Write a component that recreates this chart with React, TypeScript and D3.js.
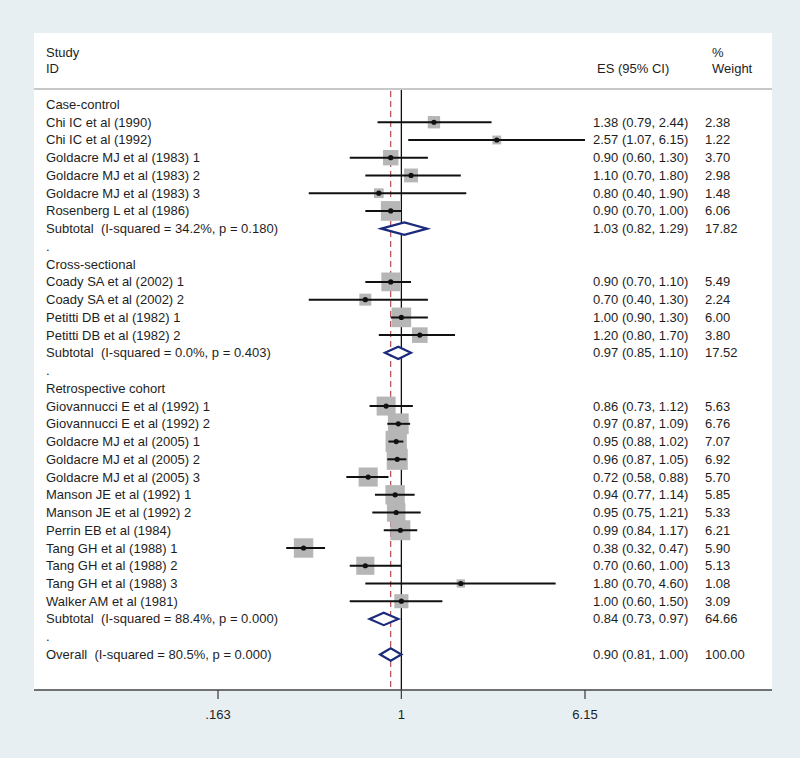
import React from "react";
import * as d3 from "d3";

// ---- data ----
const labels = [
  "Case-control",
  "Chi IC et al (1990)",
  "Chi IC et al (1992)",
  "Goldacre MJ et al (1983) 1",
  "Goldacre MJ et al (1983) 2",
  "Goldacre MJ et al (1983) 3",
  "Rosenberg L et al (1986)",
  "Subtotal  (I-squared = 34.2%, p = 0.180)",
  ".",
  "Cross-sectional",
  "Coady SA et al (2002) 1",
  "Coady SA et al (2002) 2",
  "Petitti DB et al (1982) 1",
  "Petitti DB et al (1982) 2",
  "Subtotal  (I-squared = 0.0%, p = 0.403)",
  ".",
  "Retrospective cohort",
  "Giovannucci E et al (1992) 1",
  "Giovannucci E et al (1992) 2",
  "Goldacre MJ et al (2005) 1",
  "Goldacre MJ et al (2005) 2",
  "Goldacre MJ et al (2005) 3",
  "Manson JE et al (1992) 1",
  "Manson JE et al (1992) 2",
  "Perrin EB et al (1984)",
  "Tang GH et al (1988) 1",
  "Tang GH et al (1988) 2",
  "Tang GH et al (1988) 3",
  "Walker AM et al (1981)",
  "Subtotal  (I-squared = 88.4%, p = 0.000)",
  ".",
  "Overall  (I-squared = 80.5%, p = 0.000)",
];
// row kind: h = heading, s = study, d = diamond (subtotal/overall), b = blank
const kinds = [
  "h", "s", "s", "s", "s", "s", "s", "d", "b",
  "h", "s", "s", "s", "s", "d", "b",
  "h", "s", "s", "s", "s", "s", "s", "s", "s", "s", "s", "s", "s", "d", "b",
  "d",
];
const es = [
  null, 1.38, 2.57, 0.9, 1.1, 0.8, 0.9, 1.03, null,
  null, 0.9, 0.7, 1.0, 1.2, 0.97, null,
  null, 0.86, 0.97, 0.95, 0.96, 0.72, 0.94, 0.95, 0.99, 0.38, 0.7, 1.8, 1.0, 0.84, null,
  0.9,
];
const lo = [
  null, 0.79, 1.07, 0.6, 0.7, 0.4, 0.7, 0.82, null,
  null, 0.7, 0.4, 0.9, 0.8, 0.85, null,
  null, 0.73, 0.87, 0.88, 0.87, 0.58, 0.77, 0.75, 0.84, 0.32, 0.6, 0.7, 0.6, 0.73, null,
  0.81,
];
const hi = [
  null, 2.44, 6.15, 1.3, 1.8, 1.9, 1.0, 1.29, null,
  null, 1.1, 1.3, 1.3, 1.7, 1.1, null,
  null, 1.12, 1.09, 1.02, 1.05, 0.88, 1.14, 1.21, 1.17, 0.47, 1.0, 4.6, 1.5, 0.97, null,
  1.0,
];
const weights = [
  null, 2.38, 1.22, 3.7, 2.98, 1.48, 6.06, 17.82, null,
  null, 5.49, 2.24, 6.0, 3.8, 17.52, null,
  null, 5.63, 6.76, 7.07, 6.92, 5.7, 5.85, 5.33, 6.21, 5.9, 5.13, 1.08, 3.09, 64.66, null,
  100.0,
];
const tickValues = [0.163, 1, 6.15];
const tickLabels = [".163", "1", "6.15"];
const overallES = 0.9;

const W = 800;
const H = 758;
const FONT = "'Liberation Sans', Arial, sans-serif";
const TXT = "#1e1e1e";
const FS = 13;

export default function App() {
  const panelL = 34, panelR = 772, panelT = 33, axisY = 690, headerY = 89;
  const x = d3.scaleLog().domain([0.163, 6.15]).range([218, 585]);
  const idx = d3.range(labels.length);
  const y = d3.scalePoint<number>().domain(idx).range([104.5, 104.5 + 17.74 * (labels.length - 1)]);
  const box = d3.scaleSqrt().domain([0, 1]).range([0, 8]);
  const xMin = x.range()[0], xMax = x.range()[1];
  const fmt = d3.format(".2f");

  return (
    <svg width={W} height={H} style={{ position: "absolute", left: 0, top: 0, display: "block" }}
      fontFamily={FONT}>
      <rect x={0} y={0} width={W} height={H} fill="#e8eff3" />
      <rect x={panelL} y={panelT} width={panelR - panelL} height={axisY - panelT} fill="#ffffff" />
      {/* header */}
      <text x={46} y={52} fontSize={FS} fill={TXT} dominantBaseline="central">Study</text>
      <text x={46} y={68} fontSize={FS} fill={TXT} dominantBaseline="central">ID</text>
      <text x={597} y={68} fontSize={FS} fill={TXT} dominantBaseline="central">ES (95% CI)</text>
      <text x={712} y={52} fontSize={FS} fill={TXT} dominantBaseline="central">%</text>
      <text x={712} y={68} fontSize={FS} fill={TXT} dominantBaseline="central">Weight</text>
      <line x1={panelL} x2={panelR} y1={headerY} y2={headerY} stroke="#c8c8c8" strokeWidth={2} />

      {/* reference lines */}
      <line x1={x(overallES)} x2={x(overallES)} y1={headerY + 2} y2={axisY} stroke="#a8282c"
        strokeWidth={1} strokeDasharray="6,4" />
      <line x1={x(1)} x2={x(1)} y1={headerY + 1} y2={axisY} stroke="#111" strokeWidth={1.3} />

      {idx.map((i) => {
        const yy = y(i) as number;
        const k = kinds[i];
        const els: React.ReactNode[] = [];
        els.push(
          <text key="l" x={46} y={yy} fontSize={FS} fill={TXT} dominantBaseline="central"
            style={{ whiteSpace: "pre" }}>{labels[i]}</text>
        );
        if (k === "s") {
          const cx = x(es[i] as number);
          const s = box(weights[i] as number);
          const x1 = Math.max(xMin, x(lo[i] as number));
          const x2 = Math.min(xMax, x(hi[i] as number));
          els.push(<rect key="b" x={cx - s / 2} y={yy - s / 2} width={s} height={s} fill="#b6b6b6" />);
          els.push(<line key="ci" x1={x1} x2={x2} y1={yy} y2={yy} stroke="#111" strokeWidth={2} />);
          els.push(<circle key="c" cx={cx} cy={yy} r={2.6} fill="#111" />);
        }
        if (k === "d") {
          const xl = x(lo[i] as number), xr = x(hi[i] as number), xc = x(es[i] as number);
          const hh = 6.2;
          els.push(
            <path key="dm" d={`M${xl},${yy}L${xc},${yy - hh}L${xr},${yy}L${xc},${yy + hh}Z`}
              fill="#ffffff" stroke="#1c2a7c" strokeWidth={2.2} />
          );
        }
        if (k === "s" || k === "d") {
          els.push(
            <text key="e" x={593} y={yy} fontSize={FS} fill={TXT} dominantBaseline="central">
              {`${fmt(es[i] as number)} (${fmt(lo[i] as number)}, ${fmt(hi[i] as number)})`}
            </text>
          );
          els.push(
            <text key="w" x={705} y={yy} fontSize={FS} fill={TXT} dominantBaseline="central">
              {fmt(weights[i] as number)}
            </text>
          );
        }
        return <g key={i}>{els}</g>;
      })}

      {/* axis */}
      <line x1={panelL} x2={panelR} y1={axisY} y2={axisY} stroke="#444" strokeWidth={1.5} />
      {tickValues.map((t, j) => (
        <g key={t}>
          <line x1={x(t)} x2={x(t)} y1={axisY} y2={axisY + 9} stroke="#444" strokeWidth={1.3} />
          <text x={x(t)} y={axisY + 24} fontSize={FS} fill={TXT} textAnchor="middle"
            dominantBaseline="central">{tickLabels[j]}</text>
        </g>
      ))}
    </svg>
  );
}
